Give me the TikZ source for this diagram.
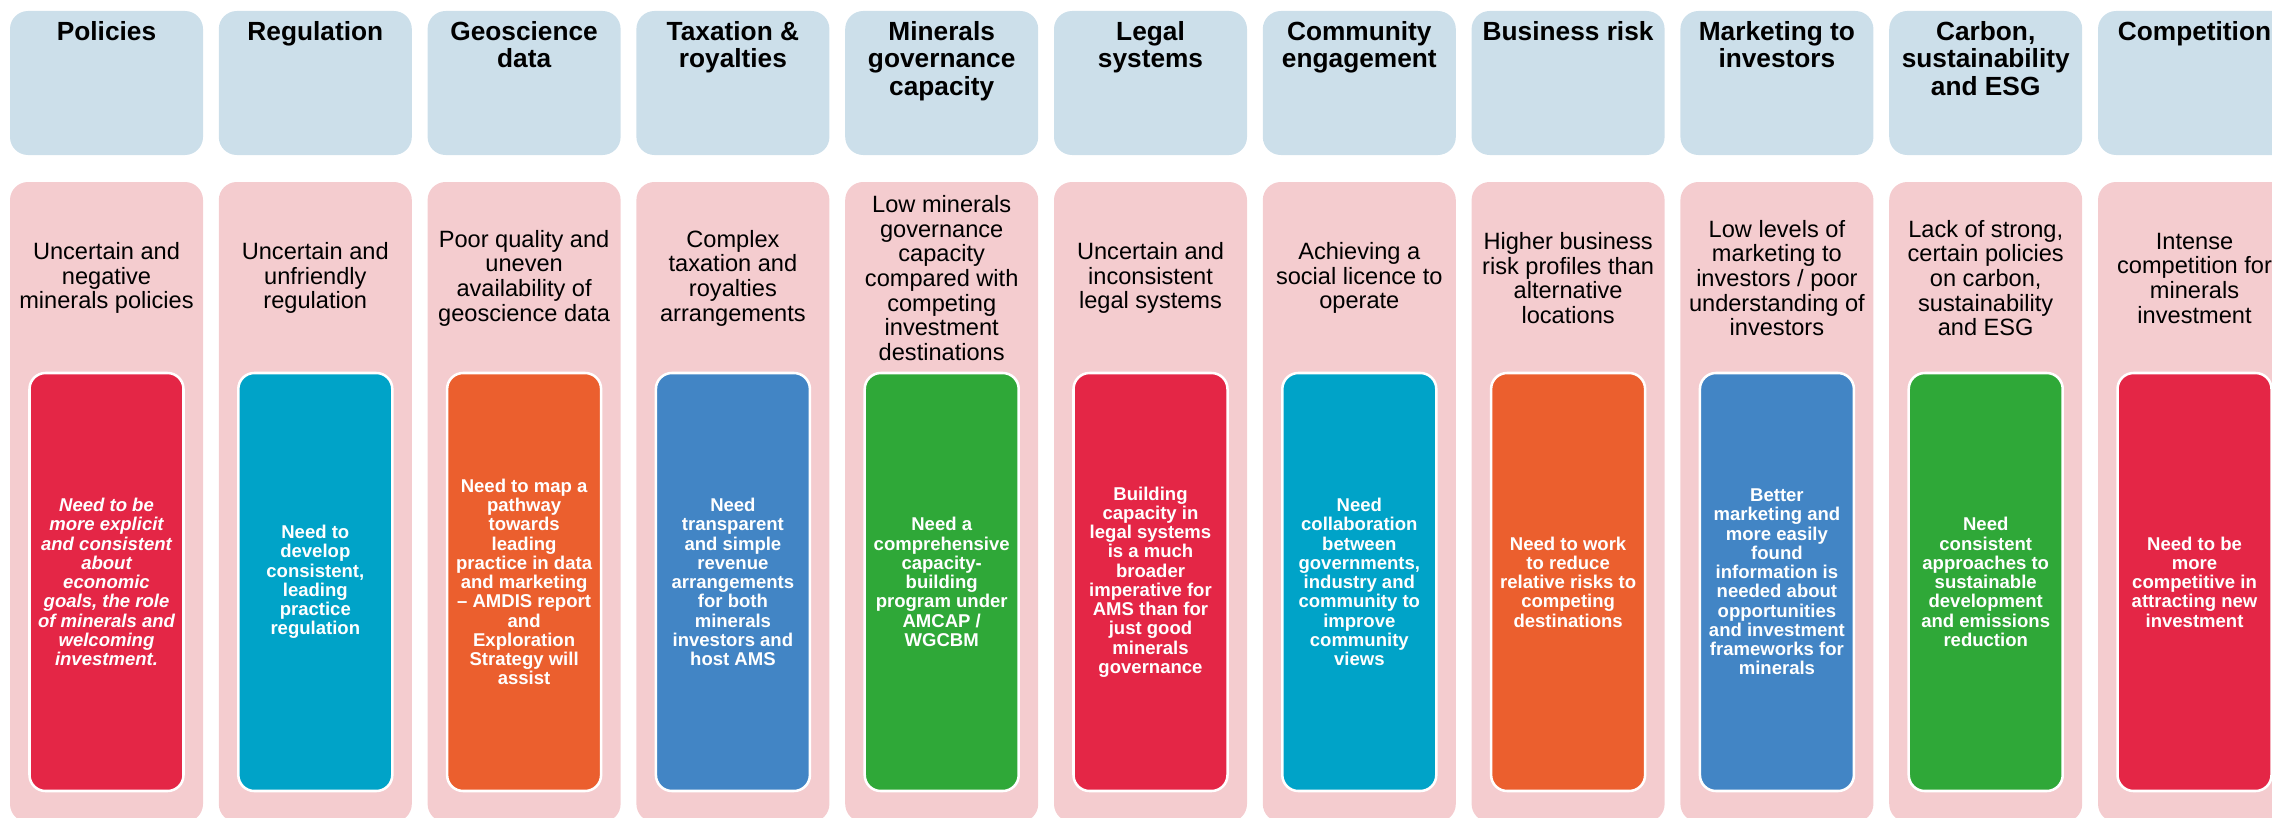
\documentclass[tikz,border=0pt]{standalone}
\usepackage{fontspec}
\setmainfont{Liberation Sans}

\definecolor{headblue}{HTML}{CCDFEA}
\definecolor{issuepink}{HTML}{F4CCCF}
\definecolor{needred}{HTML}{E42646}
\definecolor{needcyan}{HTML}{00A3C8}
\definecolor{needorange}{HTML}{EB5F2E}
\definecolor{needblue}{HTML}{4285C5}
\definecolor{needgreen}{HTML}{2FA838}

\tikzset{
  headbox/.style={fill=headblue, rounded corners=13.5pt, minimum width=144.75pt, minimum height=108pt, inner sep=0pt},
  headtext/.style={anchor=north, align=center, inner sep=0pt, font=\bfseries\fontsize{19.7}{20.6}\selectfont},
  issuebox/.style={fill=issuepink, rounded corners=13.5pt, minimum width=144.75pt, minimum height=480pt, inner sep=0pt},
  issuetext/.style={align=center, inner sep=0pt, font=\fontsize{17.7}{18.5}\selectfont},
  needbox/.style={draw=white, line width=1.9pt, rounded corners=12pt, minimum width=115.5pt, minimum height=313.5pt, inner sep=0pt, align=center, text=white, font=\bfseries\fontsize{13.9}{14.45}\selectfont}
}

\begin{document}
\begin{tikzpicture}[x=0.75pt,y=0.75pt,yscale=-1,xscale=1]
    \clip (0,0) rectangle (2272,817);

    % Policies
    \node [headbox] (pol-head) at (106.5,83) {};
    \node [headtext] (pol-title) at (106.5,21) {Policies};
    \node [issuebox] (pol-issue) at (106.5,502) {};
    \node [issuetext] (pol-text) at (106.5,278) {Uncertain and\\negative\\minerals policies};
    \node [needbox, fill=needred, font=\bfseries\itshape\fontsize{13.9}{14.45}\selectfont] (pol-need) at (106.5,582) {Need to be\\more explicit\\and consistent\\about\\economic\\goals, the role\\of minerals and\\welcoming\\investment.};

    % Regulation
    \node [headbox] (reg-head) at (315.3,83) {};
    \node [headtext] (reg-title) at (315.3,21) {Regulation};
    \node [issuebox] (reg-issue) at (315.3,502) {};
    \node [issuetext] (reg-text) at (315.3,278) {Uncertain and\\unfriendly\\regulation};
    \node [needbox, fill=needcyan] (reg-need) at (315.3,582) {Need to\\develop\\consistent,\\leading\\practice\\regulation};

    % Geoscience data
    \node [headbox] (geo-head) at (524.1,83) {};
    \node [headtext] (geo-title) at (524.1,21) {Geoscience\\data};
    \node [issuebox] (geo-issue) at (524.1,502) {};
    \node [issuetext] (geo-text) at (524.1,278) {Poor quality and\\uneven\\availability of\\geoscience data};
    \node [needbox, fill=needorange] (geo-need) at (524.1,582) {Need to map a\\pathway\\towards\\leading\\practice in data\\and marketing\\-- AMDIS report\\and\\Exploration\\Strategy will\\assist};

    % Taxation & royalties
    \node [headbox] (tax-head) at (732.9,83) {};
    \node [headtext] (tax-title) at (732.9,21) {Taxation \&\\royalties};
    \node [issuebox] (tax-issue) at (732.9,502) {};
    \node [issuetext] (tax-text) at (732.9,278) {Complex\\taxation and\\royalties\\arrangements};
    \node [needbox, fill=needblue] (tax-need) at (732.9,582) {Need\\transparent\\and simple\\revenue\\arrangements\\for both\\minerals\\investors and\\host AMS};

    % Minerals governance capacity
    \node [headbox] (gov-head) at (941.7,83) {};
    \node [headtext] (gov-title) at (941.7,21) {Minerals\\governance\\capacity};
    \node [issuebox] (gov-issue) at (941.7,502) {};
    \node [issuetext] (gov-text) at (941.7,278) {Low minerals\\governance\\capacity\\compared with\\competing\\investment\\destinations};
    \node [needbox, fill=needgreen] (gov-need) at (941.7,582) {Need a\\comprehensive\\capacity-\\building\\program under\\AMCAP /\\WGCBM};

    % Legal systems
    \node [headbox] (leg-head) at (1150.5,83) {};
    \node [headtext] (leg-title) at (1150.5,21) {Legal\\systems};
    \node [issuebox] (leg-issue) at (1150.5,502) {};
    \node [issuetext] (leg-text) at (1150.5,278) {Uncertain and\\inconsistent\\legal systems};
    \node [needbox, fill=needred] (leg-need) at (1150.5,582) {Building\\capacity in\\legal systems\\is a much\\broader\\imperative for\\AMS than for\\just good\\minerals\\governance};

    % Community engagement
    \node [headbox] (com-head) at (1359.3,83) {};
    \node [headtext] (com-title) at (1359.3,21) {Community\\engagement};
    \node [issuebox] (com-issue) at (1359.3,502) {};
    \node [issuetext] (com-text) at (1359.3,278) {Achieving a\\social licence to\\operate};
    \node [needbox, fill=needcyan] (com-need) at (1359.3,582) {Need\\collaboration\\between\\governments,\\industry and\\community to\\improve\\community\\views};

    % Business risk
    \node [headbox] (bus-head) at (1568.1,83) {};
    \node [headtext] (bus-title) at (1568.1,21) {Business risk};
    \node [issuebox] (bus-issue) at (1568.1,502) {};
    \node [issuetext] (bus-text) at (1568.1,278) {Higher business\\risk profiles than\\alternative\\locations};
    \node [needbox, fill=needorange] (bus-need) at (1568.1,582) {Need to work\\to reduce\\relative risks to\\competing\\destinations};

    % Marketing to investors
    \node [headbox] (mkt-head) at (1776.9,83) {};
    \node [headtext] (mkt-title) at (1776.9,21) {Marketing to\\investors};
    \node [issuebox] (mkt-issue) at (1776.9,502) {};
    \node [issuetext] (mkt-text) at (1776.9,278) {Low levels of\\marketing to\\investors / poor\\understanding of\\investors};
    \node [needbox, fill=needblue] (mkt-need) at (1776.9,582) {Better\\marketing and\\more easily\\found\\information is\\needed about\\opportunities\\and investment\\frameworks for\\minerals};

    % Carbon, sustainability and ESG
    \node [headbox] (esg-head) at (1985.7,83) {};
    \node [headtext] (esg-title) at (1985.7,21) {Carbon,\\sustainability\\and ESG};
    \node [issuebox] (esg-issue) at (1985.7,502) {};
    \node [issuetext] (esg-text) at (1985.7,278) {Lack of strong,\\certain policies\\on carbon,\\sustainability\\and ESG};
    \node [needbox, fill=needgreen] (esg-need) at (1985.7,582) {Need\\consistent\\approaches to\\sustainable\\development\\and emissions\\reduction};

    % Competition
    \node [headbox] (cmp-head) at (2194.5,83) {};
    \node [headtext] (cmp-title) at (2194.5,21) {Competition};
    \node [issuebox] (cmp-issue) at (2194.5,502) {};
    \node [issuetext] (cmp-text) at (2194.5,278) {Intense\\competition for\\minerals\\investment};
    \node [needbox, fill=needred] (cmp-need) at (2194.5,582) {Need to be\\more\\competitive in\\attracting new\\investment};
\end{tikzpicture}
\end{document}
